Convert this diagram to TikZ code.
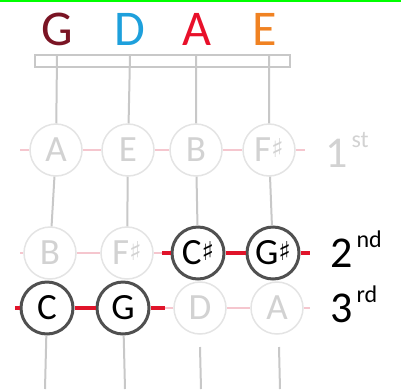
\documentclass[tikz,border=0pt]{standalone}
\usepackage{fontspec}
\setmainfont{Carlito}
\newfontfamily\symfont{DejaVu Sans}
\definecolor{strgray}{HTML}{C8C8C8}
\definecolor{pale}{HTML}{D2D2D2}
\definecolor{palering}{HTML}{E4E4E4}
\definecolor{ringdark}{HTML}{505050}
\definecolor{fretpink}{HTML}{F5C6CE}
\definecolor{fretred}{HTML}{E0142A}
\definecolor{colG}{HTML}{7A1424}
\definecolor{colD}{HTML}{1EA0DC}
\definecolor{colA}{HTML}{E8102A}
\definecolor{colE}{HTML}{F08222}

\tikzstyle{nt} = [circle, minimum size=52pt, inner sep=0pt, fill=white,
  draw=palering, line width=1.5pt, text=pale, font=\fontsize{37}{38}\selectfont]
\tikzstyle{ntOn} = [nt, draw=ringdark, line width=3pt, text=black]
\tikzstyle{str} = [strgray, line width=2pt]
\tikzstyle{pinkline} = [fretpink, line width=2pt]
\tikzstyle{redline} = [fretred, line width=3.5pt]
\tikzstyle{strname} = [anchor=base, font=\fontsize{50}{52}\selectfont]
\tikzstyle{fretlab} = [anchor=base west, inner sep=0pt, font=\fontsize{44}{46}\selectfont]

\newcommand{\shp}{\raisebox{0.12em}{\symfont\fontsize{26}{26}\selectfont ♯}}
\newcommand{\ordnum}[2]{#1\raisebox{0.45em}{\fontsize{24}{24}\selectfont\,#2}}

\begin{document}
\begin{tikzpicture}[x=1pt, y=-1pt]
  \useasboundingbox (0,0) rectangle (401,389);
  \draw[green, line width=2pt] (0,1) -- (401,1);

  % string names
  \node[strname, text=colG] (nG) at (57,45) {G};
  \node[strname, text=colD] (nD) at (130,45) {D};
  \node[strname, text=colA] (nA) at (197,45) {A};
  \node[strname, text=colE] (nE) at (265,45) {E};

  % nut
  \node[draw=strgray, line width=2.5pt, minimum width=255pt, minimum height=12pt,
    inner sep=0pt] (nut) at (162.5,61) {};
  \coordinate (tG) at (57,56);
  \coordinate (tD) at (130,56);
  \coordinate (tA) at (196,56);
  \coordinate (tE) at (269,56);

  % 1st finger
  \node[nt] (g1) at (56,150) {A};
  \node[nt] (d1) at (128,150) {E};
  \node[nt] (a1) at (196,150) {B};
  \node[nt] (e1) at (269,150) {F\shp};
  % 2nd finger
  \node[nt] (g2) at (50,253) {B};
  \node[nt] (d2) at (127,253) {F\shp};
  \node[ntOn] (a2) at (198,253) {C\shp};
  \node[ntOn] (e2) at (273,253) {G\shp};
  % 3rd finger
  \node[ntOn] (g3) at (47,308) {C};
  \node[ntOn] (d3) at (123,308) {G};
  \node[nt] (a3) at (200,308) {D};
  \node[nt] (e3) at (277,308) {A};

  % line ends
  \coordinate (r1l) at (20,150);
  \coordinate (r1r) at (305,150);
  \coordinate (r2l) at (20,253);
  \coordinate (r2m) at (162,253);
  \coordinate (r2r) at (310,253);
  \coordinate (r3l) at (15,308);
  \coordinate (r3m) at (165,308);
  \coordinate (r3r) at (310,308);
  \coordinate (bG) at (45,389);
  \coordinate (bD) at (125,389);
  \coordinate (sA) at (200,347);
  \coordinate (bA) at (201,389);
  \coordinate (sE) at (279,347);
  \coordinate (bE) at (280,389);

  % strings
  \draw[str] (tG) -- (g1) -- (g2);
  \draw[str] (tD) -- (d1) -- (d2);
  \draw[str] (tA) -- (a1) -- (a2);
  \draw[str] (tE) -- (e1) -- (e2);
  \draw[str] (g3) -- (bG);
  \draw[str] (d3) -- (bD);
  \draw[str] (sA) -- (bA);
  \draw[str] (sE) -- (bE);

  % frets
  \draw[pinkline] (r1l) -- (g1) -- (d1) -- (a1) -- (e1) -- (r1r);
  \draw[pinkline] (r2l) -- (g2) -- (d2) -- (r2m);
  \draw[redline] (r2m) -- (a2) -- (e2) -- (r2r);
  \draw[redline] (r3l) -- (g3) -- (d3) -- (r3m);
  \draw[pinkline] (r3m) -- (a3) -- (e3) -- (r3r);

  % finger labels
  \node[fretlab, text=pale] (f1) at (325,167) {\ordnum{1}{st}};
  \node[fretlab] (f2) at (330,267) {\ordnum{2}{nd}};
  \node[fretlab] (f3) at (330,322) {\ordnum{3}{rd}};
\end{tikzpicture}
\end{document}
